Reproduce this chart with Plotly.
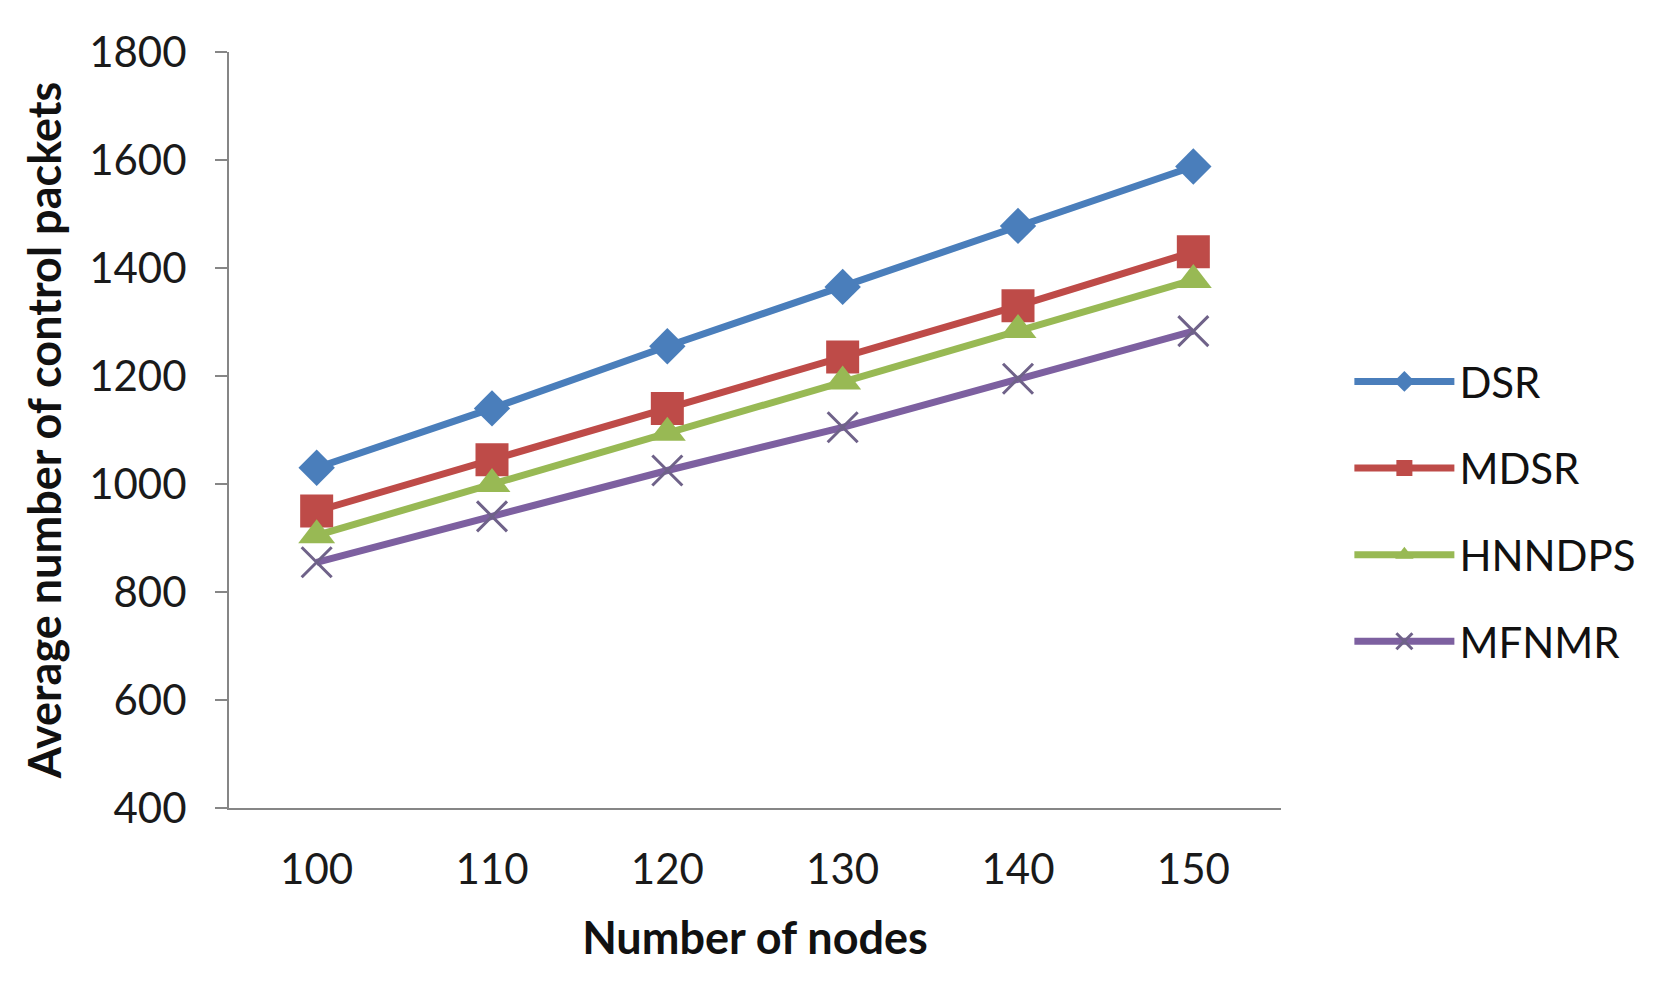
import plotly.graph_objects as go

nodes = ["100", "110", "120", "130", "140", "150"]
dsr = [1030, 1140, 1255, 1365, 1478, 1588]
mdsr = [950, 1045, 1140, 1235, 1330, 1430]
hnndps = [905, 1000, 1095, 1190, 1285, 1378]
mfnmr = [855, 940, 1025, 1105, 1195, 1283]

FONT = "Lato, 'Noto Sans', sans-serif"

series = [
    ("DSR", dsr, "#4a7ebb", dict(symbol="diamond", size=28, color="#4a7ebb")),
    ("MDSR", mdsr, "#be4b48", dict(symbol="square", size=33, color="#be4b48")),
    ("HNNDPS", hnndps, "#98b954", dict(symbol="triangle-up", size=32, color="#98b954")),
    ("MFNMR", mfnmr, "#7d60a0", dict(symbol="x-thin", size=30, color="#6f6289",
                                      line=dict(width=3, color="#6f6289"))),
]

fig = go.Figure()
for name, vals, col, mk in series:
    fig.add_trace(go.Scatter(
        x=nodes, y=vals, name=name, mode="lines+markers",
        line=dict(color=col, width=7), marker=mk, legendgroup=name,
    ))

fig.update_layout(
    width=1653, height=984,
    margin=dict(l=221, r=380, t=44, b=184),
    paper_bgcolor="white", plot_bgcolor="white",
    font=dict(family=FONT, size=42, color="#1a1a1a"),
    showlegend=True,
    legend=dict(x=1.065, xanchor="left", y=0.392, yanchor="middle",
                itemwidth=100, tracegroupgap=29,
                font=dict(family=FONT, size=42, color="#111111"),
                bgcolor="rgba(0,0,0,0)"),
)
fig.update_xaxes(
    type="category", range=[-0.5, 5.5], showgrid=False, zeroline=False,
    showline=True, linecolor="#868686", linewidth=2, ticks="",
    ticklabelstandoff=24,
    tickfont=dict(family=FONT, size=42, color="#1a1a1a"),
    title=dict(text="<b>Number of nodes</b>", standoff=30,
               font=dict(family=FONT, size=45, color="#111111")),
)
fig.update_yaxes(
    range=[400, 1800], dtick=200, showgrid=False, zeroline=False,
    showline=True, linecolor="#868686", linewidth=2,
    ticks="outside", ticklen=12, tickcolor="#868686", tickwidth=2,
    ticklabelstandoff=20,
    tickfont=dict(family=FONT, size=42, color="#1a1a1a"),
    title=dict(text="<b>Average number of control packets</b>", standoff=13,
               font=dict(family=FONT, size=45, color="#111111")),
)

fig.write_html("out.html")
